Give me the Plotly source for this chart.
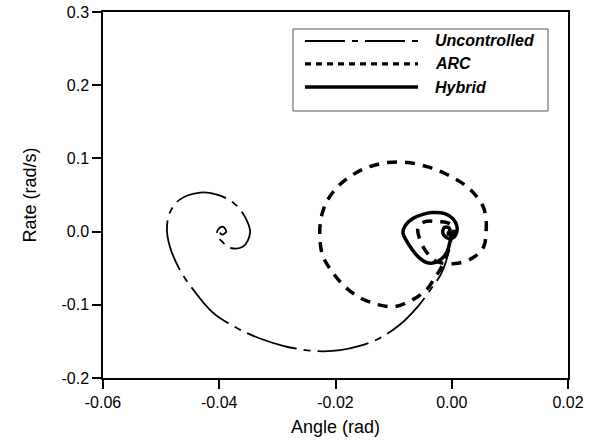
import plotly.graph_objects as go

# ---- data (angle in rad, rate in rad/s) ----
unc_angle = [0.0000, -0.0002, -0.0005, -0.0010, -0.0019, -0.0034, -0.0060, -0.0089, -0.0125,
             -0.0160, -0.0192, -0.0222, -0.0255, -0.0290, -0.0330, -0.0369, -0.0411, -0.0445, -0.0468,
             -0.0485, -0.0490, -0.0485, -0.0468, -0.0433, -0.0404, -0.0376, -0.0356, -0.0347,
             -0.0359, -0.0382, -0.0395, -0.0404, -0.0402, -0.0394, -0.0388, -0.0395, -0.0399]
unc_rate = [0.0000, -0.0109, -0.0246, -0.0410, -0.0587, -0.0765, -0.1038, -0.1270, -0.1460,
            -0.1565, -0.1620, -0.1635, -0.1615, -0.1560, -0.1460, -0.1320, -0.1107, -0.0792, -0.0519,
            -0.0205, 0.0027, 0.0260, 0.0437, 0.0533, 0.0505, 0.0396, 0.0205, -0.0014,
            -0.0205, -0.0219, -0.0137, -0.0055, 0.0027, 0.0068, 0.0000, -0.0041, -0.0014]

arc_angle = [0.0000, -0.0003, -0.0010, -0.0020, -0.0029, -0.0043, -0.0067, -0.0098, -0.0127,
             -0.0158, -0.0184, -0.0206, -0.0222, -0.0227, -0.0225, -0.0215, -0.0196, -0.0170,
             -0.0141, -0.0110, -0.0075, -0.0043, -0.0015, 0.0014, 0.0037, 0.0054, 0.0059,
             0.0059, 0.0055, 0.0037, 0.0006, -0.0025, -0.0044, -0.0056, -0.0058, -0.0046,
             -0.0025, -0.0008, 0.0004, 0.0000, -0.0008, -0.0008]
arc_rate = [0.0000, -0.0178, -0.0355, -0.0519, -0.0628, -0.0792, -0.0929, -0.1025, -0.0997,
            -0.0902, -0.0751, -0.0546, -0.0328, -0.0068, 0.0178, 0.0410, 0.0615, 0.0779,
            0.0888, 0.0943, 0.0943, 0.0888, 0.0806, 0.0683, 0.0533, 0.0342, 0.0164,
            0.0000, -0.0205, -0.0355, -0.0437, -0.0410, -0.0273, -0.0082, 0.0055, 0.0137,
            0.0137, 0.0123, 0.0055, -0.0041, -0.0027, 0.0000]

hyb_angle = [0.0000, -0.0003, -0.0008, -0.0017, -0.0029, -0.0043, -0.0058, -0.0068, -0.0077,
             -0.0084, -0.0080, -0.0067, -0.0051, -0.0034, -0.0012, 0.0002, 0.0009, 0.0006,
             -0.0005, -0.0015, -0.0013, -0.0005, -0.0003, -0.0008]
hyb_rate = [0.0000, -0.0137, -0.0273, -0.0369, -0.0423, -0.0423, -0.0342, -0.0246, -0.0137,
            -0.0014, 0.0082, 0.0178, 0.0232, 0.0260, 0.0246, 0.0178, 0.0068, -0.0055,
            -0.0096, -0.0027, 0.0055, 0.0055, -0.0014, 0.0000]

series_names = ["Uncontrolled", "ARC", "Hybrid"]

x_tickvals = [-0.06, -0.04, -0.02, 0.00, 0.02]
x_ticktext = ["-0.06", "-0.04", "-0.02", "0.00", "0.02"]
y_tickvals = [-0.2, -0.1, 0.0, 0.1, 0.2, 0.3]
y_ticktext = ["-0.2", "-0.1", "0.0", "0.1", "0.2", "0.3"]

FONT = "Liberation Sans, Arial, sans-serif"

unc_dash = "52px,7px,7px,7px"
arc_dash = "10px,8px"

fig = go.Figure()
fig.add_trace(go.Scatter(x=unc_angle, y=unc_rate, mode="lines", name=series_names[0],
                         line=dict(color="black", width=1.8, dash=unc_dash, shape="spline", smoothing=1.0),
                         showlegend=False))
fig.add_trace(go.Scatter(x=arc_angle, y=arc_rate, mode="lines", name=series_names[1],
                         line=dict(color="black", width=3.5, dash=arc_dash, shape="spline", smoothing=1.0),
                         showlegend=False))
fig.add_trace(go.Scatter(x=hyb_angle, y=hyb_rate, mode="lines", name=series_names[2],
                         line=dict(color="black", width=3.5, shape="spline", smoothing=1.0),
                         showlegend=False))

# ---- hand-built legend (long line samples) ----
leg_rows_y = [0.9208, 0.858, 0.795]
leg_dashes = ["40px,7px,6px,7px", "6px,5px", "solid"]
leg_widths = [1.8, 3.2, 3.5]
shapes = [dict(type="rect", xref="paper", yref="paper", x0=0.4086, x1=0.957, y0=0.7295, y1=0.9536,
               line=dict(color="#555555", width=1), fillcolor="white", layer="below")]
annotations = []
for name, yy, dsh, w in zip(series_names, leg_rows_y, leg_dashes, leg_widths):
    shapes.append(dict(type="line", xref="paper", yref="paper", x0=0.4344, x1=0.6774, y0=yy, y1=yy,
                       line=dict(color="black", width=w, dash=dsh)))
    annotations.append(dict(xref="paper", yref="paper", x=0.7097, y=yy, xanchor="left", yanchor="middle",
                            text="<b><i>" + name + "</i></b>", showarrow=False,
                            font=dict(family=FONT, size=16, color="black")))

fig.update_layout(
    width=590, height=443,
    margin=dict(l=103, r=22, t=12, b=65),
    paper_bgcolor="white", plot_bgcolor="white",
    font=dict(family=FONT, size=16, color="black"),
    shapes=shapes, annotations=annotations,
    xaxis=dict(range=[-0.06, 0.02], tickvals=x_tickvals, ticktext=x_ticktext, automargin=False,
               showgrid=False, zeroline=False, showline=True, linecolor="black", linewidth=1.5,
               mirror=True, ticks="outside", ticklen=9, tickwidth=1.5, tickcolor="black",
               tickfont=dict(size=16), title=dict(text="Angle (rad)", font=dict(size=18), standoff=10)),
    yaxis=dict(range=[-0.2, 0.3], tickvals=y_tickvals, ticktext=y_ticktext, automargin=False,
               showgrid=False, zeroline=False, showline=True, linecolor="black", linewidth=1.5,
               mirror=True, ticks="outside", ticklen=9, tickwidth=1.5, tickcolor="black",
               tickfont=dict(size=16), title=dict(text="Rate (rad/s)", font=dict(size=18), standoff=20)),
)

fig.write_html("out.html")
